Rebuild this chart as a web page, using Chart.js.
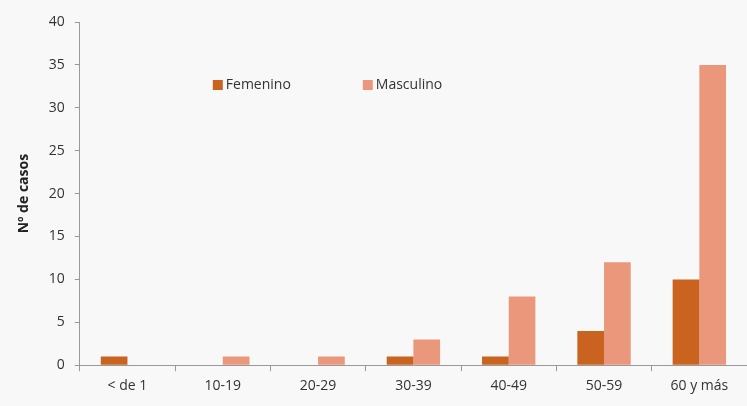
<!DOCTYPE html>
<html>
<head>
<meta charset="utf-8">
<script src="https://cdn.jsdelivr.net/npm/chart.js@4/dist/chart.umd.min.js"></script>
<style>
  html, body { margin: 0; padding: 0; background: #f8f8f8; }
  #wrap { width: 747px; height: 406px; }
</style>
</head>
<body>
<div id="wrap"><canvas id="casos" width="747" height="406"></canvas></div>
<script>
// datos
const grupos = ['< de 1', '10-19', '20-29', '30-39', '40-49', '50-59', '60 y más'];
const femenino = [1, 0, 0, 1, 1, 4, 10];
const masculino = [0, 1, 1, 3, 8, 12, 35];
const ticksY = [0, 5, 10, 15, 20, 25, 30, 35, 40];

const FONT = "'Open Sans', 'Noto Sans', sans-serif";
const colFem = '#c9631f';
const colMasc = '#ea977b';

// fondo gris claro
const fondo = {
  id: 'fondo',
  beforeDraw(chart) {
    const c = chart.ctx;
    c.save();
    c.fillStyle = '#f8f8f8';
    c.fillRect(0, 0, chart.width, chart.height);
    c.restore();
  }
};

// leyenda dentro del área del gráfico
const leyenda = {
  id: 'leyenda',
  afterDraw(chart) {
    const c = chart.ctx;
    const area = chart.chartArea;
    const x0 = area.left + 133;
    const y = area.top + 63;
    const offsets = [0, 150];
    c.save();
    c.font = '14px ' + FONT;
    c.textBaseline = 'middle';
    chart.data.datasets.forEach((ds, i) => {
      const x = x0 + offsets[i];
      c.fillStyle = ds.backgroundColor;
      c.fillRect(x, y - 5, 10, 10);
      c.fillStyle = '#333';
      c.fillText(ds.label, x + 13, y);
    });
    c.restore();
  }
};

new Chart(document.getElementById('casos'), {
  type: 'bar',
  data: {
    labels: grupos,
    datasets: [
      { label: 'Femenino', data: femenino, backgroundColor: colFem, barPercentage: 1, categoryPercentage: 0.56 },
      { label: 'Masculino', data: masculino, backgroundColor: colMasc, barPercentage: 1, categoryPercentage: 0.56 }
    ]
  },
  options: {
    responsive: false,
    animation: false,
    devicePixelRatio: 1,
    layout: { padding: { top: 22, right: 0, left: 10, bottom: 6 } },
    plugins: {
      legend: { display: false },
      tooltip: { enabled: false }
    },
    scales: {
      x: {
        grid: { display: true, drawOnChartArea: false, drawTicks: true, tickLength: 6, color: '#999', offset: true },
        border: { color: '#999' },
        ticks: { color: '#333', font: { family: FONT, size: 14 }, padding: 6, maxRotation: 0 }
      },
      y: {
        min: 0,
        max: 40,
        afterBuildTicks(scale) { scale.ticks = ticksY.map(v => ({ value: v })); },
        grid: { display: true, drawOnChartArea: false, drawTicks: true, tickLength: 5, color: '#999' },
        border: { color: '#999' },
        ticks: { color: '#333', font: { family: FONT, size: 14 }, padding: 10 },
        title: { display: true, text: 'Nº de casos', color: '#222', font: { family: FONT, size: 14, weight: 'bold' }, padding: 6 }
      }
    }
  },
  plugins: [fondo, leyenda]
});
</script>
</body>
</html>
